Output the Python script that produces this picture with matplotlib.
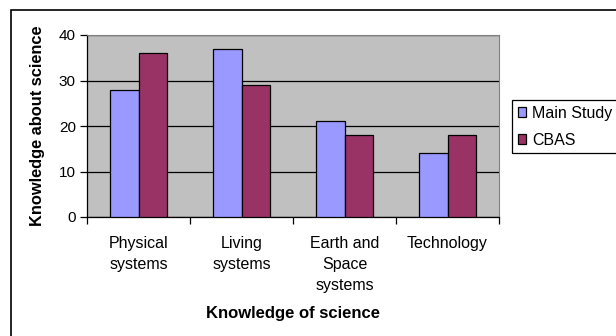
import numpy as np
import matplotlib.pyplot as plt
from matplotlib.patches import Rectangle

plt.rcParams['font.family'] = ['Liberation Sans', 'DejaVu Sans']
plt.rcParams['font.size'] = 10

categories = ['Physical\nsystems', 'Living\nsystems', 'Earth and\nSpace\nsystems', 'Technology']
main_study = [28, 37, 21, 14]
cbas = [36, 29, 18, 18]

fig = plt.figure(figsize=(6.16, 3.36), dpi=100)

# outer chart frame (runs off the right and bottom edges)
fig.patches.append(Rectangle((10.5 / 616, -0.1), 1.2, (336 - 9.5) / 336 + 0.1,
                             transform=fig.transFigure, fill=False,
                             edgecolor='black', linewidth=1.2))

ax = fig.add_axes([87 / 616, (336 - 217) / 336, (499 - 87) / 616, (217 - 35) / 336])
ax.set_facecolor('#C0C0C0')

x = np.arange(len(categories))
w = 0.28
ax.bar(x - w / 2, main_study, w, color='#9999FF', edgecolor='black', linewidth=0.9,
       label='Main Study', zorder=3)
ax.bar(x + w / 2, cbas, w, color='#993366', edgecolor='black', linewidth=0.9,
       label='CBAS', zorder=3)

ax.set_xlim(-0.5, len(categories) - 0.5)
ax.set_ylim(0, 40)
ax.set_yticks([0, 10, 20, 30, 40])
ax.yaxis.grid(True, color='black', linewidth=0.9, zorder=1)
ax.set_axisbelow(True)

ax.set_xticks(x)
ax.set_xticklabels(categories, linespacing=1.5, fontsize=11.5)
ax.set_xticks(np.arange(-0.5, len(categories)), minor=True)
ax.tick_params(axis='x', which='major', length=0, pad=14)
ax.tick_params(axis='x', which='minor', length=5, direction='out', width=0.9)
ax.tick_params(axis='y', length=5, width=0.9, pad=3, labelsize=11)

for side in ('top', 'right'):
    ax.spines[side].set_color('#808080')
for side in ('left', 'bottom'):
    ax.spines[side].set_color('black')
    ax.spines[side].set_linewidth(0.9)

ax.set_xlabel('Knowledge of science', fontweight='bold', fontsize=12, labelpad=9)
ax.set_ylabel('Knowledge about science', fontweight='bold', fontsize=11.8, labelpad=10)

leg = fig.legend(loc='upper left', bbox_to_anchor=(512 / 616, (336 - 100) / 336),
                 fancybox=False, edgecolor='black', framealpha=1,
                 handlelength=0.55, handleheight=0.55, handletextpad=0.35,
                 borderpad=0.35, labelspacing=0.75, fontsize=11.5, borderaxespad=0)
leg.get_frame().set_linewidth(0.9)

fig.savefig('out.png', dpi=100)
